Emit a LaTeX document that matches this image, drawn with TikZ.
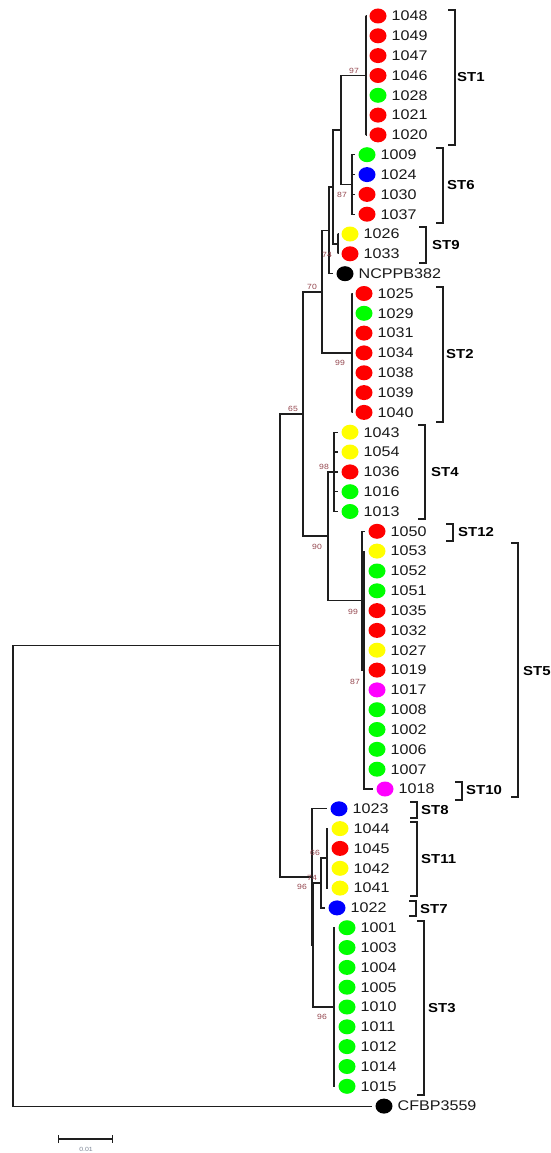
\documentclass[tikz,border=0pt]{standalone}
\usepackage{fontspec}
\setmainfont{Liberation Sans}[FakeStretch=1.15]
\usepackage{tikz}
\usetikzlibrary{arrows.meta,shapes.geometric}
\definecolor{BootRed}{HTML}{94464E}
\definecolor{TreeInk}{HTML}{1E1E1E}
\definecolor{ScaleGrey}{HTML}{7A8494}
\definecolor{DotRed}{HTML}{FF0000}
\definecolor{DotGreen}{HTML}{00FF00}
\definecolor{DotBlue}{HTML}{0000FF}
\definecolor{DotYellow}{HTML}{FFFF00}
\definecolor{DotPink}{HTML}{FF00FF}

\begin{document}
\begin{tikzpicture}[
  x=1pt,y=-1pt,
  leaf/.style={ellipse,fill=#1,minimum width=17pt,minimum height=15pt,inner sep=0pt,outer sep=4pt},
  every label/.style={inner sep=0pt,text=black!90,font=\fontsize{14}{16}\selectfont},
  label distance=1pt,
  branch/.style={line width=1.2pt,draw=TreeInk},
  bracket/.style={line width=1.2pt,draw=TreeInk},
  boot/.style={inner sep=0pt,text=BootRed,font=\fontsize{7.5}{8}\selectfont},
  stname/.style={anchor=west,inner sep=0pt,font=\bfseries\fontsize{13}{15}\selectfont}
]
\useasboundingbox (0,0) rectangle (550,1153);

\node[leaf=DotRed,label=right:1048] (l1048) at (378,16) {};
\node[leaf=DotRed,label=right:1049] (l1049) at (378,35.8) {};
\node[leaf=DotRed,label=right:1047] (l1047) at (378,55.6) {};
\node[leaf=DotRed,label=right:1046] (l1046) at (378,75.5) {};
\node[leaf=DotGreen,label=right:1028] (l1028) at (378,95.3) {};
\node[leaf=DotRed,label=right:1021] (l1021) at (378,115.1) {};
\node[leaf=DotRed,label=right:1020] (l1020) at (378,134.9) {};
\node[leaf=DotGreen,label=right:1009] (l1009) at (367,154.7) {};
\node[leaf=DotBlue,label=right:1024] (l1024) at (367,174.6) {};
\node[leaf=DotRed,label=right:1030] (l1030) at (367,194.4) {};
\node[leaf=DotRed,label=right:1037] (l1037) at (367,214.2) {};
\node[leaf=DotYellow,label=right:1026] (l1026) at (350,234) {};
\node[leaf=DotRed,label=right:1033] (l1033) at (350,253.8) {};
\node[leaf=black,label=right:NCPPB382] (lNCPPB382) at (345,273.7) {};
\node[leaf=DotRed,label=right:1025] (l1025) at (364,293.5) {};
\node[leaf=DotGreen,label=right:1029] (l1029) at (364,313.3) {};
\node[leaf=DotRed,label=right:1031] (l1031) at (364,333.1) {};
\node[leaf=DotRed,label=right:1034] (l1034) at (364,352.9) {};
\node[leaf=DotRed,label=right:1038] (l1038) at (364,372.8) {};
\node[leaf=DotRed,label=right:1039] (l1039) at (364,392.6) {};
\node[leaf=DotRed,label=right:1040] (l1040) at (364,412.4) {};
\node[leaf=DotYellow,label=right:1043] (l1043) at (350,432.2) {};
\node[leaf=DotYellow,label=right:1054] (l1054) at (350,452) {};
\node[leaf=DotRed,label=right:1036] (l1036) at (350,471.9) {};
\node[leaf=DotGreen,label=right:1016] (l1016) at (350,491.7) {};
\node[leaf=DotGreen,label=right:1013] (l1013) at (350,511.5) {};
\node[leaf=DotRed,label=right:1050] (l1050) at (377,531.3) {};
\node[leaf=DotYellow,label=right:1053] (l1053) at (377,551.1) {};
\node[leaf=DotGreen,label=right:1052] (l1052) at (377,571) {};
\node[leaf=DotGreen,label=right:1051] (l1051) at (377,590.8) {};
\node[leaf=DotRed,label=right:1035] (l1035) at (377,610.6) {};
\node[leaf=DotRed,label=right:1032] (l1032) at (377,630.4) {};
\node[leaf=DotYellow,label=right:1027] (l1027) at (377,650.2) {};
\node[leaf=DotRed,label=right:1019] (l1019) at (377,670.1) {};
\node[leaf=DotPink,label=right:1017] (l1017) at (377,689.9) {};
\node[leaf=DotGreen,label=right:1008] (l1008) at (377,709.7) {};
\node[leaf=DotGreen,label=right:1002] (l1002) at (377,729.5) {};
\node[leaf=DotGreen,label=right:1006] (l1006) at (377,749.3) {};
\node[leaf=DotGreen,label=right:1007] (l1007) at (377,769.2) {};
\node[leaf=DotPink,label=right:1018] (l1018) at (385,789) {};
\node[leaf=DotBlue,label=right:1023] (l1023) at (339,808.8) {};
\node[leaf=DotYellow,label=right:1044] (l1044) at (340,828.6) {};
\node[leaf=DotRed,label=right:1045] (l1045) at (340,848.4) {};
\node[leaf=DotYellow,label=right:1042] (l1042) at (340,868.3) {};
\node[leaf=DotYellow,label=right:1041] (l1041) at (340,888.1) {};
\node[leaf=DotBlue,label=right:1022] (l1022) at (337,907.9) {};
\node[leaf=DotGreen,label=right:1001] (l1001) at (347,927.7) {};
\node[leaf=DotGreen,label=right:1003] (l1003) at (347,947.5) {};
\node[leaf=DotGreen,label=right:1004] (l1004) at (347,967.4) {};
\node[leaf=DotGreen,label=right:1005] (l1005) at (347,987.2) {};
\node[leaf=DotGreen,label=right:1010] (l1010) at (347,1007) {};
\node[leaf=DotGreen,label=right:1011] (l1011) at (347,1026.8) {};
\node[leaf=DotGreen,label=right:1012] (l1012) at (347,1046.6) {};
\node[leaf=DotGreen,label=right:1014] (l1014) at (347,1066.5) {};
\node[leaf=DotGreen,label=right:1015] (l1015) at (347,1086.3) {};
\node[leaf=black,label=right:CFBP3559] (lCFBP3559) at (384,1106.1) {};

\coordinate (cST1) at (366,75.5);
\coordinate (cST6) at (352,184.5);
\coordinate (cA) at (341,130);
\coordinate (cST9) at (338,244);
\coordinate (cB) at (333,187);
\coordinate (cC) at (329,230.5);
\coordinate (cD) at (322,292);
\coordinate (cST2) at (352,353);
\coordinate (cE) at (303,414);
\coordinate (cST4) at (334,472);
\coordinate (cF) at (328,536);
\coordinate (cG) at (362,600.7);
\coordinate (cST5) at (364,670);
\coordinate (cH) at (280,645.5);
\coordinate (root) at (13,876);
\coordinate (cI) at (312,877);
\coordinate (cJ) at (313,945);
\coordinate (cK) at (321,883);
\coordinate (cST11) at (327,858);
\coordinate (cST3) at (334,1007);

\draw[branch] (root) |- (cH) (root) |- (lCFBP3559);
\draw[branch] (cH) |- (cE) (cH) |- (cI);
\draw[branch] (cE) |- (cD) (cE) |- (cF);
\draw[branch] (cD) |- (cC) (cD) |- (cST2);
\draw[branch] (cC) |- (cB) (cC) |- (lNCPPB382);
\draw[branch] (cB) |- (cA) (cB) |- (cST9);
\draw[branch] (cA) |- (cST1) (cA) |- (cST6);
\draw[branch] (cST1) |- (l1048) (cST1) |- (l1049) (cST1) |- (l1047) (cST1) |- (l1046)
  (cST1) |- (l1028) (cST1) |- (l1021) (cST1) |- (l1020);
\draw[branch] (cST6) |- (l1009) (cST6) |- (l1024) (cST6) |- (l1030) (cST6) |- (l1037);
\draw[branch] (cST9) |- (l1026) (cST9) |- (l1033);
\draw[branch] (cST2) |- (l1025) (cST2) |- (l1029) (cST2) |- (l1031) (cST2) |- (l1034)
  (cST2) |- (l1038) (cST2) |- (l1039) (cST2) |- (l1040);
\draw[branch] (cF) |- (cST4) (cF) |- (cG);
\draw[branch] (cST4) |- (l1043) (cST4) |- (l1054) (cST4) |- (l1036) (cST4) |- (l1016) (cST4) |- (l1013);
\draw[branch] (cG) |- (l1050) (cG) |- (cST5);
\draw[branch] (cST5) |- (l1053) (cST5) |- (l1052) (cST5) |- (l1051) (cST5) |- (l1035)
  (cST5) |- (l1032) (cST5) |- (l1027) (cST5) |- (l1019) (cST5) |- (l1017)
  (cST5) |- (l1008) (cST5) |- (l1002) (cST5) |- (l1006) (cST5) |- (l1007) (cST5) |- (l1018);
\draw[branch] (cI) |- (l1023) (cI) |- (cJ);
\draw[branch] (cJ) |- (cK) (cJ) |- (cST3);
\draw[branch] (cK) |- (cST11) (cK) |- (l1022);
\draw[branch] (cST11) |- (l1044) (cST11) |- (l1045) (cST11) |- (l1042) (cST11) |- (l1041);
\draw[branch] (cST3) |- (l1001) (cST3) |- (l1003) (cST3) |- (l1004) (cST3) |- (l1005)
  (cST3) |- (l1010) (cST3) |- (l1011) (cST3) |- (l1012) (cST3) |- (l1014) (cST3) |- (l1015);

\node[boot] (b97) at (354,71) {97};
\node[boot] (b87a) at (342,195) {87};
\node[boot] (b74a) at (327,255) {74};
\node[boot] (b70) at (312,287) {70};
\node[boot] (b99a) at (340,363) {99};
\node[boot] (b65) at (293,409) {65};
\node[boot] (b98) at (324,467) {98};
\node[boot] (b90) at (317,547) {90};
\node[boot] (b99b) at (353,612) {99};
\node[boot] (b87b) at (355,682) {87};
\node[boot] (b66) at (315,853) {66};
\node[boot] (b74b) at (312,878) {74};
\node[boot] (b96a) at (302,887) {96};
\node[boot] (b96b) at (322,1017) {96};

\draw[bracket] (448,10) -- (455,10) -- (455,145) -- (448,145);
\node[stname] (tST1) at (457,77) {ST1};
\draw[bracket] (436,148) -- (443,148) -- (443,223) -- (436,223);
\node[stname] (tST6) at (447,185) {ST6};
\draw[bracket] (419,227) -- (426,227) -- (426,263) -- (419,263);
\node[stname] (tST9) at (432,245) {ST9};
\draw[bracket] (436,287) -- (443,287) -- (443,422) -- (436,422);
\node[stname] (tST2) at (446,354) {ST2};
\draw[bracket] (418,425) -- (425,425) -- (425,519) -- (418,519);
\node[stname] (tST4) at (431,472) {ST4};
\draw[bracket] (446,524) -- (453,524) -- (453,541) -- (446,541);
\node[stname] (tST12) at (458,532) {ST12};
\draw[bracket] (511,543) -- (518,543) -- (518,797) -- (511,797);
\node[stname] (tST5) at (523,671) {ST5};
\draw[bracket] (455,782) -- (462,782) -- (462,800) -- (455,800);
\node[stname] (tST10) at (466,790) {ST10};
\draw[bracket] (410,802) -- (417,802) -- (417,818) -- (410,818);
\node[stname] (tST8) at (421,810) {ST8};
\draw[bracket] (410,822) -- (417,822) -- (417,896) -- (410,896);
\node[stname] (tST11) at (421,859) {ST11};
\draw[bracket] (409,901) -- (416,901) -- (416,916) -- (409,916);
\node[stname] (tST7) at (420,909) {ST7};
\draw[bracket] (417,921) -- (424,921) -- (424,1095) -- (417,1095);
\node[stname] (tST3) at (428,1008) {ST3};

\coordinate (sbL) at (58,1139);
\coordinate (sbR) at (113,1139);
\draw[branch,{Bar[width=8pt]}-{Bar[width=8pt]}] (sbL) -- (sbR);
\node[inner sep=0pt,text=ScaleGrey,font=\fontsize{6}{7}\selectfont] (sbt) at (86,1149) {0.01};
\end{tikzpicture}
\end{document}
